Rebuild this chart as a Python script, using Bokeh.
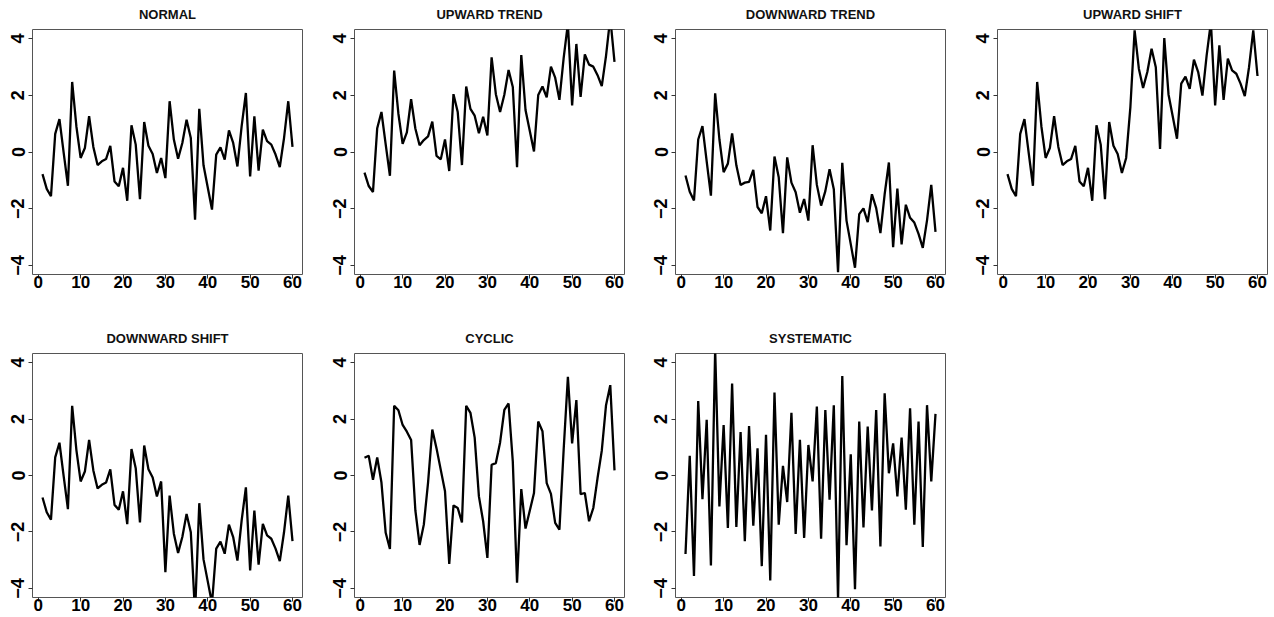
from bokeh.plotting import figure
from bokeh.layouts import column, row
from bokeh.models import Range1d, FixedTicker, ColumnDataSource
from bokeh.embed import file_html
from bokeh.resources import INLINE

obs = list(range(1, 61))

normal = [-0.78, -1.30, -1.56, 0.64, 1.16, -0.03, -1.19, 2.47, 0.90, -0.21,
          0.14, 1.26, 0.18, -0.46, -0.33, -0.25, 0.22, -1.04, -1.21, -0.56,
          -1.72, 0.94, 0.26, -1.66, 1.06, 0.22, -0.07, -0.74, -0.21, -0.92,
          1.79, 0.44, -0.24, 0.32, 1.14, 0.49, -2.39, 1.52, -0.47, -1.25,
          -2.03, -0.09, 0.16, -0.27, 0.76, 0.32, -0.51, 0.91, 2.08, -0.86,
          1.26, -0.66, 0.79, 0.38, 0.26, -0.09, -0.53, 0.49, 1.79, 0.18]

upward_trend = [-0.73, -1.20, -1.41, 0.84, 1.41, 0.27, -0.84, 2.87, 1.35, 0.29,
                0.69, 1.86, 0.83, 0.24, 0.42, 0.55, 1.07, -0.14, -0.26, 0.44,
                -0.67, 2.04, 1.41, -0.46, 2.31, 1.52, 1.28, 0.66, 1.24, 0.58,
                3.34, 2.04, 1.41, 2.02, 2.89, 2.29, -0.54, 3.42, 1.48, 0.75,
                0.02, 2.01, 2.31, 1.93, 3.01, 2.62, 1.84, 3.31, 4.53, 1.64,
                3.81, 1.94, 3.44, 3.08, 3.01, 2.71, 2.32, 3.39, 4.74, 3.18]

downward_trend = [-0.83, -1.40, -1.71, 0.44, 0.91, -0.33, -1.54, 2.07, 0.45, -0.71,
                  -0.41, 0.66, -0.47, -1.16, -1.08, -1.05, -0.63, -1.94, -2.16, -1.56,
                  -2.77, -0.16, -0.89, -2.86, -0.19, -1.08, -1.42, -2.14, -1.66, -2.42,
                  0.24, -1.16, -1.89, -1.38, -0.61, -1.31, -4.24, -0.38, -2.42, -3.25,
                  -4.08, -2.19, -1.99, -2.47, -1.49, -1.98, -2.86, -1.49, -0.37, -3.36,
                  -1.29, -3.26, -1.86, -2.32, -2.49, -2.89, -3.38, -2.41, -1.16, -2.82]

upward_shift = [-0.78, -1.30, -1.56, 0.64, 1.16, -0.03, -1.19, 2.47, 0.90, -0.21,
                0.14, 1.26, 0.18, -0.46, -0.33, -0.25, 0.22, -1.04, -1.21, -0.56,
                -1.72, 0.94, 0.26, -1.66, 1.06, 0.22, -0.07, -0.74, -0.21, 1.58,
                4.29, 2.94, 2.26, 2.82, 3.64, 2.99, 0.11, 4.02, 2.03, 1.25,
                0.47, 2.41, 2.66, 2.23, 3.26, 2.82, 1.99, 3.41, 4.58, 1.64,
                3.76, 1.84, 3.29, 2.88, 2.76, 2.41, 1.97, 2.99, 4.29, 2.68]

downward_shift = [-0.78, -1.30, -1.56, 0.64, 1.16, -0.03, -1.19, 2.47, 0.90, -0.21,
                  0.14, 1.26, 0.18, -0.46, -0.33, -0.25, 0.22, -1.04, -1.21, -0.56,
                  -1.72, 0.94, 0.26, -1.66, 1.06, 0.22, -0.07, -0.74, -0.21, -3.42,
                  -0.71, -2.06, -2.74, -2.18, -1.36, -2.01, -4.89, -0.98, -2.97, -3.75,
                  -4.53, -2.59, -2.34, -2.77, -1.74, -2.18, -3.01, -1.59, -0.42, -3.36,
                  -1.24, -3.16, -1.71, -2.12, -2.24, -2.59, -3.03, -2.01, -0.71, -2.32]

cyclic = [0.63, 0.70, -0.15, 0.64, -0.25, -2.03, -2.60, 2.47, 2.31, 1.79,
          1.55, 1.26, -1.23, -2.46, -1.74, -0.25, 1.63, 0.96, 0.20, -0.56,
          -3.13, -1.06, -1.15, -1.66, 2.47, 2.22, 1.34, -0.74, -1.62, -2.92,
          0.38, 0.44, 1.17, 2.32, 2.55, 0.49, -3.80, -0.48, -1.88, -1.25,
          -0.62, 1.91, 1.57, -0.27, -0.65, -1.68, -1.92, 0.91, 3.49, 1.14,
          2.67, -0.66, -0.62, -1.62, -1.15, -0.09, 0.88, 2.49, 3.20, 0.18]

systematic = [-2.78, 0.70, -3.56, 2.64, -0.84, 1.97, -3.19, 4.47, -1.10, 1.79,
              -1.86, 3.26, -1.82, 1.54, -2.33, 1.75, -1.78, 0.96, -3.21, 1.44,
              -3.72, 2.94, -1.74, 0.34, -0.94, 2.22, -2.07, 1.26, -2.21, 1.08,
              -0.21, 2.44, -2.24, 2.32, -0.86, 2.49, -4.39, 3.52, -2.47, 0.75,
              -4.03, 1.91, -1.84, 1.73, -1.24, 2.32, -2.51, 2.91, 0.08, 1.14,
              -0.74, 1.34, -1.21, 2.38, -1.74, 1.91, -2.53, 2.49, -0.21, 2.18]

titles = ["NORMAL", "UPWARD TREND", "DOWNWARD TREND", "UPWARD SHIFT",
          "DOWNWARD SHIFT", "CYCLIC", "SYSTEMATIC"]
series = [normal, upward_trend, downward_trend, upward_shift,
          downward_shift, cyclic, systematic]

x_ticks = [0, 10, 20, 30, 40, 50, 60]
y_ticks = [-4, -2, 0, 2, 4]

FONT = "Liberation Sans"


def make(title, y, width, height, left, right, top, bottom):
    p = figure(width=width, height=height, output_backend="svg",
               toolbar_location=None, title=title,
               x_range=Range1d(-1.36, 62.36), y_range=Range1d(-4.32, 4.32),
               min_border_left=left, min_border_right=right,
               min_border_top=top, min_border_bottom=bottom)
    p.title.text_font = FONT
    p.title.text_font_size = "13px"
    p.title.text_font_style = "bold"
    p.title.align = "center"
    p.title.vertical_align = "top"
    p.title.standoff = 11
    p.title.text_color = "#111111"
    p.grid.visible = False
    p.outline_line_color = "#555555"
    p.outline_line_width = 1
    p.background_fill_color = "white"
    p.border_fill_color = "white"
    for ax in (p.xaxis[0], p.yaxis[0]):
        ax.axis_line_color = None
        ax.major_tick_in = 0
        ax.major_tick_out = 4
        ax.minor_tick_line_color = None
        ax.major_tick_line_color = "#333333"
        ax.major_label_text_font = FONT
        ax.major_label_text_font_size = "17px"
        ax.major_label_text_font_style = "bold"
        ax.major_label_text_color = "black"
    p.xaxis.ticker = FixedTicker(ticks=x_ticks)
    p.yaxis.ticker = FixedTicker(ticks=y_ticks)
    p.xaxis.major_label_standoff = -3
    p.yaxis.major_label_standoff = 4
    p.yaxis.major_label_orientation = "parallel"
    p.yaxis.major_label_text_font_size = "18px"
    src = ColumnDataSource(dict(x=obs, y=y))
    p.line("x", "y", source=src, line_color="black", line_width=2.3)
    return p


widths = [322, 321, 322, 309]
rights = [20, 19, 20, 7]
figs = []
for k, (t, s) in enumerate(zip(titles, series)):
    r, c = divmod(k, 4)
    if r == 0:
        h, top, bottom = 324, 29, 50
    else:
        h, top, bottom = 293, 29, 20
    figs.append(make(t, s, widths[c], h, 32, rights[c], top, bottom))

layout = column(row(*figs[:4]), row(*figs[4:]))

open("out.html", "w").write(file_html(layout, INLINE))
